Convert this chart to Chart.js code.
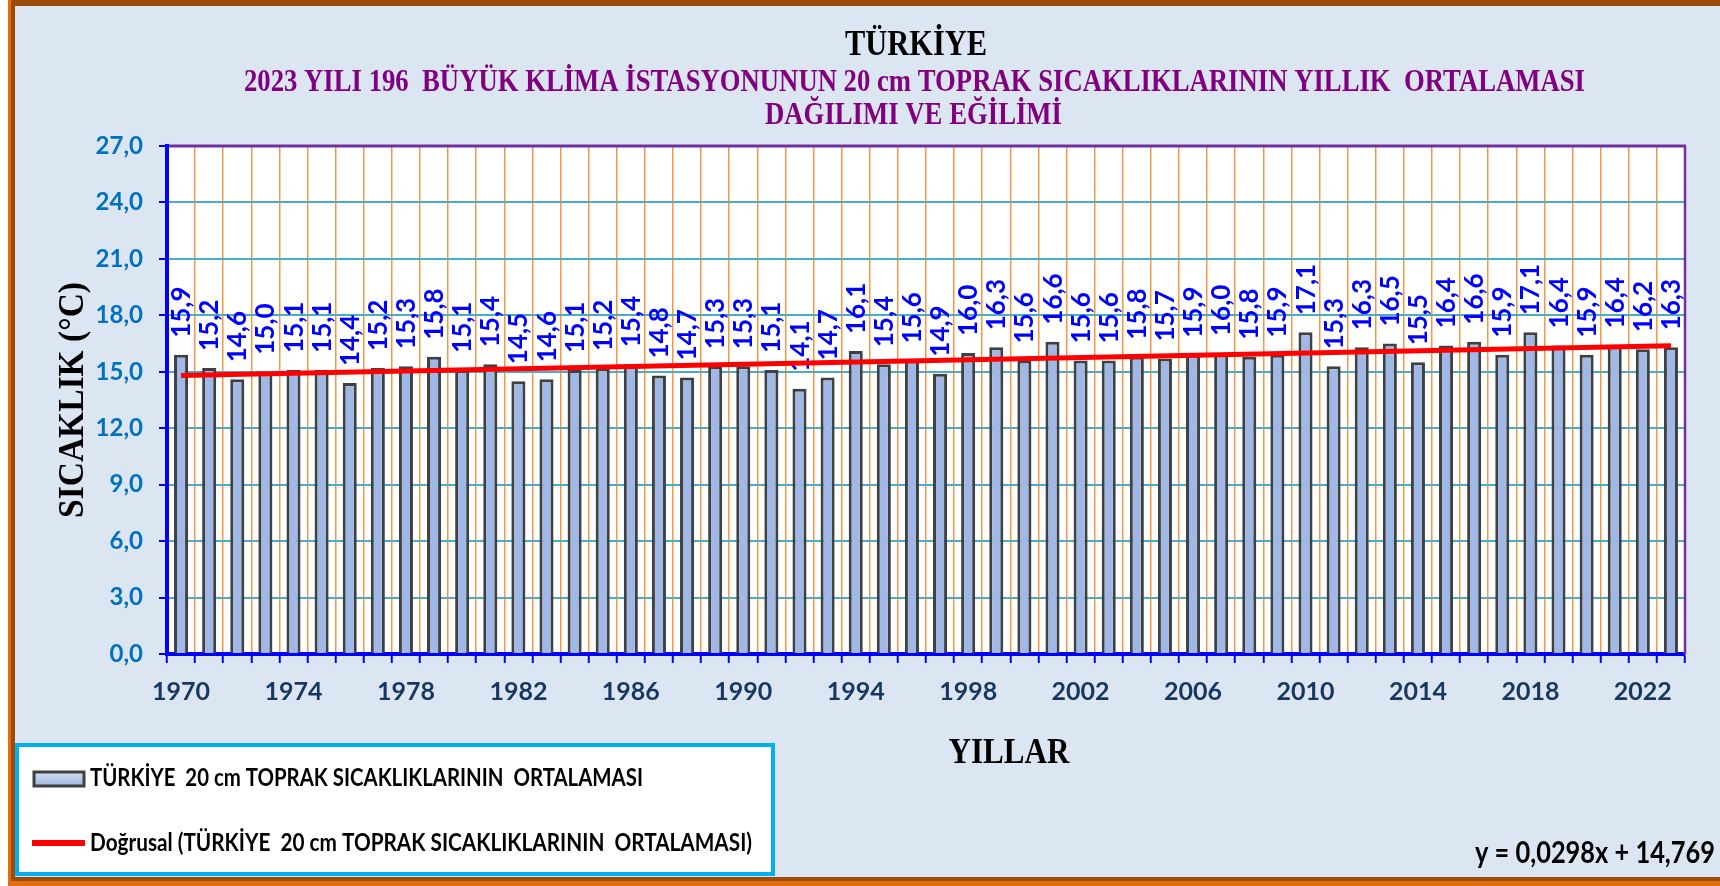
<!DOCTYPE html>
<html><head><meta charset="utf-8">
<script src="https://cdn.jsdelivr.net/npm/chart.js@4.4.1/dist/chart.umd.min.js"></script>
<style>html,body{margin:0;padding:0;background:#fff;overflow:hidden}canvas{display:block}</style>
</head><body>
<canvas id="c" width="1720" height="886"></canvas>
<script>
const years = ['1970','1971','1972','1973','1974','1975','1976','1977','1978','1979',
  '1980','1981','1982','1983','1984','1985','1986','1987','1988','1989',
  '1990','1991','1992','1993','1994','1995','1996','1997','1998','1999',
  '2000','2001','2002','2003','2004','2005','2006','2007','2008','2009',
  '2010','2011','2012','2013','2014','2015','2016','2017','2018','2019',
  '2020','2021','2022','2023'];
const soilTemp = [15.9,15.2,14.6,15.0,15.1,15.1,14.4,15.2,15.3,15.8,
  15.1,15.4,14.5,14.6,15.1,15.2,15.4,14.8,14.7,15.3,
  15.3,15.1,14.1,14.7,16.1,15.4,15.6,14.9,16.0,16.3,
  15.6,16.6,15.6,15.6,15.8,15.7,15.9,16.0,15.8,15.9,
  17.1,15.3,16.3,16.5,15.5,16.4,16.6,15.9,17.1,16.4,
  15.9,16.4,16.2,16.3];
const trendEnds = [14.80, 16.38];
const shownYears = ['1970','1974','1978','1982','1986','1990','1994','1998','2002','2006','2010','2014','2018','2022'];
const yMin = 0, yMax = 27, yStep = 3;

const titleText = 'TÜRKİYE';
const subtitleLines = ['2023 YILI 196  BÜYÜK KLİMA İSTASYONUNUN 20 cm TOPRAK SICAKLIKLARININ YILLIK  ORTALAMASI', 'DAĞILIMI VE EĞİLİMİ'];
const yTitle = 'SICAKLIK (°C)';
const xTitle = 'YILLAR';
const seriesName = 'TÜRKİYE  20 cm TOPRAK SICAKLIKLARININ  ORTALAMASI';
const trendName = 'Doğrusal (TÜRKİYE  20 cm TOPRAK SICAKLIKLARININ  ORTALAMASI)';
const equationText = 'y = 0,0298x + 14,769';

const trendData = years.map((_, i) => i === 0 ? trendEnds[0] : (i === years.length - 1 ? trendEnds[1] : null));
const fmt = v => v.toFixed(1).replace('.', ',');

function txt(ctx, s, x, y, o) {
  ctx.save();
  ctx.font = o.font;
  ctx.fillStyle = o.color || '#000';
  ctx.textBaseline = 'alphabetic';
  ctx.textAlign = o.align || 'left';
  ctx.translate(x, y);
  if (o.rotate) ctx.rotate(o.rotate);
  let sx = 1;
  if (o.width) sx = o.width / ctx.measureText(s).width;
  ctx.scale(sx, 1);
  ctx.fillText(s, 0, 0);
  ctx.restore();
}

const framePlugin = {
  id: 'frame',
  beforeDraw(chart) {
    const ctx = chart.ctx, a = chart.chartArea;
    ctx.save();
    ctx.fillStyle = '#ffffff'; ctx.fillRect(0, 0, 1720, 886);
    ctx.fillStyle = '#E46C0A'; ctx.fillRect(8, 0, 1712, 886);
    ctx.fillStyle = '#9C4A0A'; ctx.fillRect(11, 0, 1709, 881);
    ctx.fillStyle = '#DCE6F2'; ctx.fillRect(15, 6, 1705, 871);
    ctx.fillStyle = '#ffffff'; ctx.fillRect(a.left, a.top, a.right - a.left, a.bottom - a.top);
    ctx.restore();
  },
  beforeDatasetsDraw(chart) {
    const ctx = chart.ctx, a = chart.chartArea;
    ctx.save();
    ctx.strokeStyle = '#7030A0';
    ctx.lineWidth = 3;
    ctx.beginPath(); ctx.moveTo(a.left + 2, a.top); ctx.lineTo(a.right + 1, a.top); ctx.stroke();
    ctx.lineWidth = 2.5;
    ctx.beginPath(); ctx.moveTo(a.right, a.top); ctx.lineTo(a.right, a.bottom); ctx.stroke();
    ctx.restore();
  }
};

const labelPlugin = {
  id: 'barLabels',
  afterDatasetDraw(chart, args) {
    if (args.index !== 0) return;
    const ctx = chart.ctx;
    const meta = chart.getDatasetMeta(0);
    ctx.save();
    ctx.font = 'bold 26px Lato';
    ctx.fillStyle = '#0000FF';
    ctx.textAlign = 'left';
    ctx.textBaseline = 'alphabetic';
    meta.data.forEach((bar, i) => {
      ctx.save();
      ctx.translate(bar.x + 9, bar.y - 17);
      ctx.rotate(-Math.PI / 2);
      ctx.fillText(fmt(soilTemp[i]), 0, 0);
      ctx.restore();
    });
    ctx.restore();
  }
};

const decoPlugin = {
  id: 'deco',
  afterDraw(chart) {
    const ctx = chart.ctx;
    txt(ctx, titleText, 916, 55, {font: 'bold 36px "Liberation Serif"', align: 'center', width: 142});
    txt(ctx, subtitleLines[0], 914.5, 91, {font: 'bold 32px "Liberation Serif"', align: 'center', width: 1341, color: '#800080'});
    txt(ctx, subtitleLines[1], 913.5, 124, {font: 'bold 31px "Liberation Serif"', align: 'center', width: 297, color: '#800080'});
    txt(ctx, yTitle, 83, 400, {font: 'bold 35px "Liberation Serif"', align: 'center', rotate: -Math.PI / 2, width: 236});
    txt(ctx, xTitle, 1009, 763, {font: 'bold 35px "Liberation Serif"', align: 'center', width: 121});
    // legend
    ctx.save();
    ctx.fillStyle = '#ffffff'; ctx.fillRect(17, 745, 756, 129);
    ctx.strokeStyle = '#00B0F0'; ctx.lineWidth = 4; ctx.strokeRect(17, 745, 756, 129);
    const g = ctx.createLinearGradient(0, 772, 0, 786);
    g.addColorStop(0, '#D2DEF3'); g.addColorStop(1, '#9DB5E2');
    ctx.fillStyle = g; ctx.fillRect(34, 772, 50, 14);
    ctx.strokeStyle = '#404040'; ctx.lineWidth = 3; ctx.strokeRect(34, 772, 50, 14);
    ctx.strokeStyle = '#FF0000'; ctx.lineWidth = 6;
    ctx.beginPath(); ctx.moveTo(32, 843); ctx.lineTo(85, 843); ctx.stroke();
    ctx.restore();
    txt(ctx, seriesName, 90, 786, {font: 'bold 24px Lato', width: 553});
    txt(ctx, trendName, 90, 851, {font: 'bold 24px Lato', width: 662});
    txt(ctx, equationText, 1715, 863, {font: 'bold 30px Lato', align: 'right', width: 240});
  }
};

function build() {
  new Chart(document.getElementById('c'), {
    type: 'bar',
    data: {
      labels: years,
      datasets: [{
        label: seriesName,
        data: soilTemp,
        backgroundColor: '#9FB8E5',
        borderColor: '#404040',
        borderWidth: 3,
        barPercentage: 0.5,
        categoryPercentage: 1.0,
        order: 1
      }, {
        type: 'line',
        label: trendName,
        data: trendData,
        spanGaps: true,
        borderColor: '#FF0000',
        borderWidth: 5,
        pointRadius: 0,
        fill: false,
        order: 0
      }]
    },
    options: {
      responsive: false,
      devicePixelRatio: 1,
      animation: false,
      layout: {padding: {top: 146, right: 35, bottom: 0, left: 0}},
      plugins: {legend: {display: false}, tooltip: {enabled: false}, title: {display: false}},
      scales: {
        x: {
          offset: true,
          grid: {offset: true, color: '#F79646', lineWidth: 1.5, tickColor: '#0000FF', tickLength: 9, tickWidth: 2},
          border: {color: '#0000FF', width: 4},
          ticks: {
            autoSkip: false, maxRotation: 0, minRotation: 0, padding: 14,
            color: '#17375E', font: {family: 'Lato', weight: 'bold', size: 25, lineHeight: 1.2},
            callback: function (v) { const l = this.getLabelForValue(v); return shownYears.includes(l) ? l : ''; }
          },
          afterFit: s => { s.height = 232; }
        },
        y: {
          min: yMin, max: yMax,
          grid: {color: '#4BACC6', lineWidth: 2, tickColor: '#0000FF', tickLength: 8, tickWidth: 2},
          border: {color: '#0000FF', width: 4},
          ticks: {
            stepSize: yStep, padding: 16, color: '#0070C0',
            font: {family: 'Lato', weight: 'bold', size: 24},
            callback: v => fmt(v)
          },
          afterFit: s => { s.width = 167; }
        }
      }
    },
    plugins: [framePlugin, labelPlugin, decoPlugin]
  });
}

const fontsToLoad = ['bold 24px Lato', 'bold 32px "Liberation Serif"'];
if (document.fonts && document.fonts.load) {
  Promise.all(fontsToLoad.map(f => document.fonts.load(f))).then(build, build);
} else { build(); }
</script>
</body></html>
